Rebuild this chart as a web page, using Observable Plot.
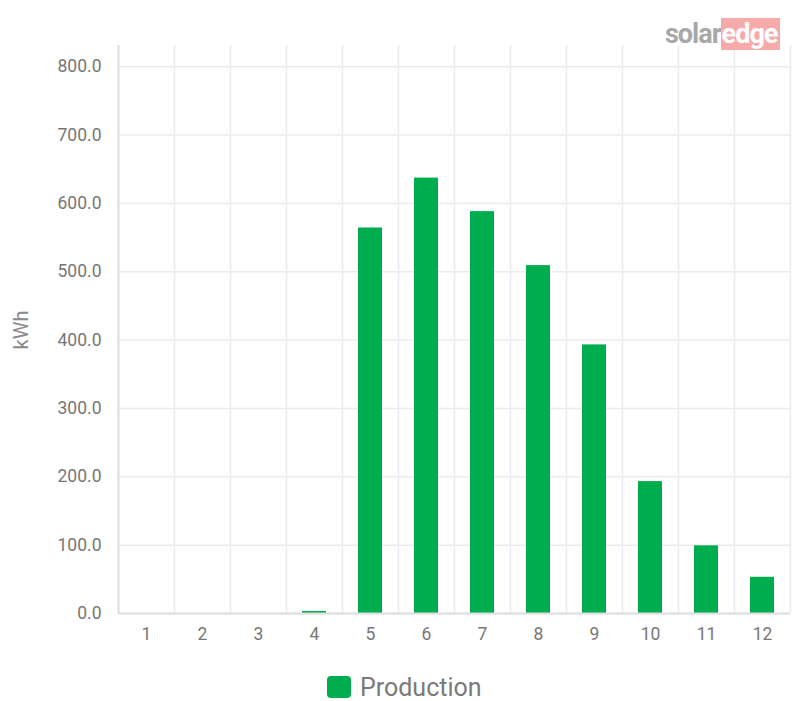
<!DOCTYPE html>
<html><head><meta charset="utf-8">
<script src="https://cdn.jsdelivr.net/npm/d3@7"></script>
<script src="https://cdn.jsdelivr.net/npm/@observablehq/plot@0.6"></script>
<style>
body{margin:0;background:#fff;font-family:Roboto,sans-serif;}
#wrap{position:relative;width:792px;height:701px;}
#logo{position:absolute;left:665px;top:20px;font:bold 27px Roboto,sans-serif;letter-spacing:-1px;line-height:28px;}
#logo .s{color:#a8a8a8;}
#logo .e{color:#fff;background:#f7aaaa;padding:0 3px 0 1px;}
#legend{position:absolute;left:327px;top:672px;display:flex;align-items:center;font:25px Roboto,sans-serif;color:#7a7a7a;height:30px;}
#legend .sw{width:24px;height:22px;border-radius:4px;background:#00ad4e;margin-right:9px;}
#ylab{position:absolute;left:21px;top:330px;transform:translate(-50%,-50%) rotate(-90deg);font:20px Roboto,sans-serif;color:#8a8a8a;white-space:nowrap;}
</style></head>
<body><div id="wrap"><div id="chart"></div>
<div id="ylab">kWh</div>
<div id="logo"><span class="s">solar</span><span class="e">edge</span></div>
<div id="legend"><div class="sw"></div><span>Production</span></div></div>
<script>
const months = [1,2,3,4,5,6,7,8,9,10,11,12];
const production = [0,0,0,3,564,637,588,509,393,193,99,53];
const yTicks = [0,100,200,300,400,500,600,700,800];
const data = months.map((m,i)=>({month:m, kwh:production[i]}));
const chart = Plot.plot({
  width:792, height:660,
  marginLeft:118, marginRight:2, marginTop:45, marginBottom:47,
  style:{fontFamily:"Roboto, sans-serif", fontSize:"17.5px", color:"#777"},
  x:{type:"band", domain:months, padding:0, tickSize:0, tickPadding:14, label:null},
  y:{domain:[0,831], ticks:yTicks, tickSize:0, tickPadding:17, tickFormat:d3.format(".1f"), label:null},
  marks:[
    Plot.ruleY(yTicks, {stroke:"#ececec", strokeWidth:1.5}),
    Plot.ruleX(months, {x:d=>d, dx:28, stroke:"#ececec", strokeWidth:1.5}),
    Plot.barY(data, {x:"month", y:"kwh", fill:"#00ad4e", insetLeft:16, insetRight:16}),
    Plot.ruleY([0], {stroke:"#dedede", strokeWidth:2}),
    Plot.ruleX([1], {x:d=>d, dx:-28, stroke:"#dedede", strokeWidth:2})
  ]
});
document.getElementById("chart").appendChild(chart);
</script></body></html>
